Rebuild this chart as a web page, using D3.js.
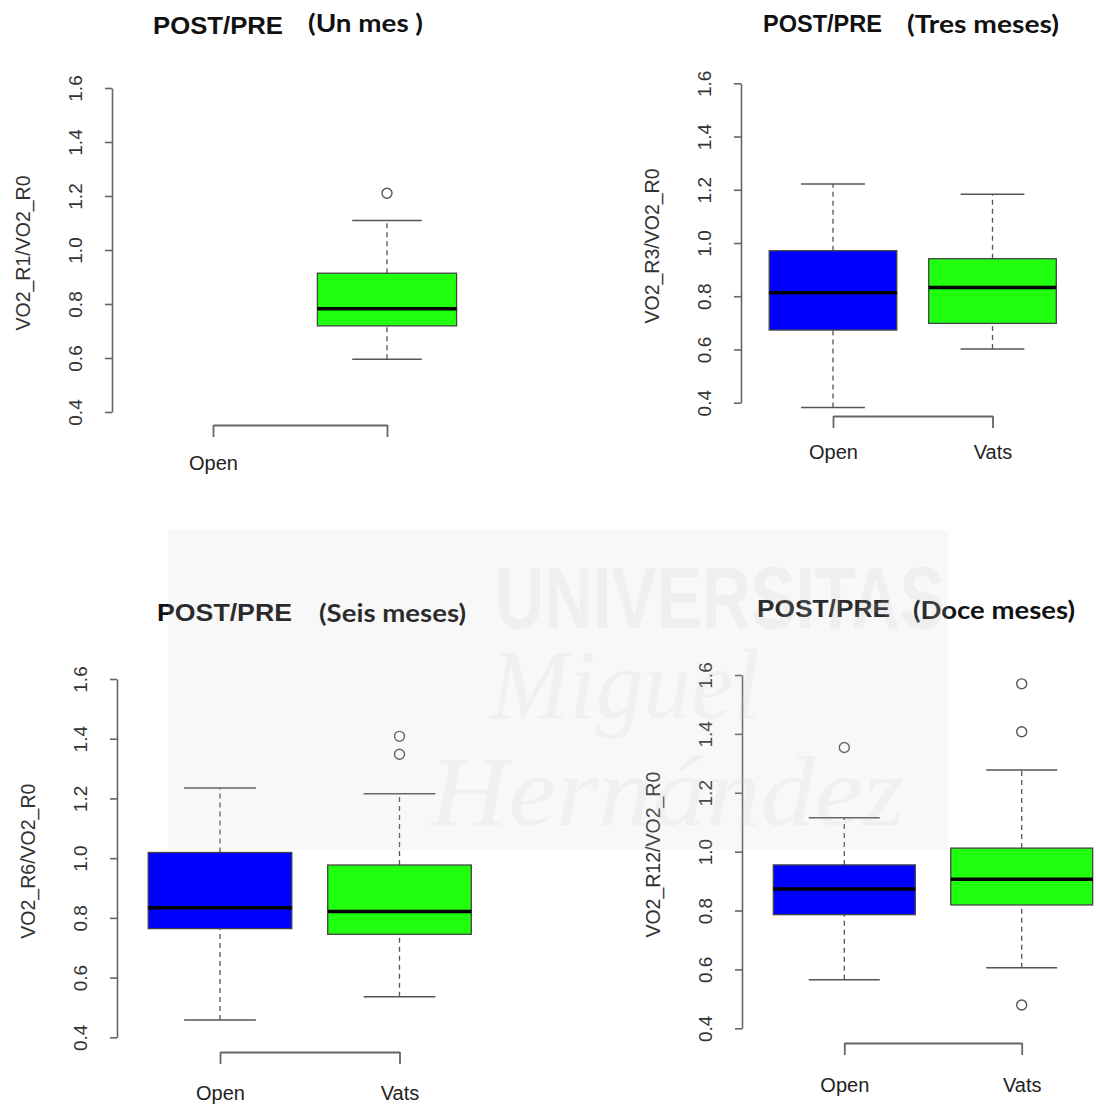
<!DOCTYPE html>
<html>
<head>
<meta charset="utf-8">
<script src="https://cdn.jsdelivr.net/npm/d3@7"></script>
<style>
  body { margin: 0; background: #fff; }
  svg { display: block; }
</style>
</head>
<body>
<div id="chart"></div>
<script>
// Data
let categories = ["Open", "Vats"];
let titleMain = "POST/PRE";
let titleSub = ["(Un mes )", "(Tres meses)", "(Seis meses)", "(Doce meses)"];
let yLabels = ["VO2_R1/VO2_R0", "VO2_R3/VO2_R0", "VO2_R6/VO2_R0", "VO2_R12/VO2_R0"];
let yTicks = [0.4, 0.6, 0.8, 1.0, 1.2, 1.4, 1.6];

// box stats: [lower whisker, Q1, median, Q3, upper whisker]
let openStats = [
    null,
    [0.382, 0.673, 0.813, 0.971, 1.222],
    [0.458, 0.764, 0.834, 1.019, 1.235],
    [0.565, 0.786, 0.873, 0.955, 1.115]
];
let vatsStats = [
    [0.595, 0.719, 0.782, 0.914, 1.109],
    [0.602, 0.698, 0.833, 0.941, 1.183],
    [0.536, 0.745, 0.821, 0.977, 1.216],
    [0.606, 0.819, 0.906, 1.012, 1.277]
];
let openOutliers = [[], [], [], [1.354]];
let vatsOutliers = [[1.21], [], [1.348, 1.408], [1.570, 1.407, 0.479]];
let boxColors = ["#0000ff", "#20ff0e"];

// Where each pasted plot sits on the page
let layout = [
    {axisX: 112, yTop: 88, yBot: 412, x0: 213, x1: 387, axisY: 425, pad: 19, showVats: false,
     t1: [153, 34, 130], t2: [308, 32, 115]},
    {axisX: 741, yTop: 83.3, yBot: 402.7, x0: 833, x1: 992.5, axisY: 416, pad: 17, showVats: true,
     t1: [763, 31.7, 119], t2: [907, 33, 152]},
    {axisX: 117, yTop: 679, yBot: 1037.3, x0: 220, x1: 399.5, axisY: 1052, pad: 22, showVats: true,
     t1: [157, 620.7, 135], t2: [319, 621.5, 147]},
    {axisX: 742, yTop: 675, yBot: 1028.3, x0: 844.3, x1: 1021.7, axisY: 1043, pad: 23, showVats: true,
     t1: [757, 616.7, 133], t2: [913, 619.3, 162]}
];

let svg = d3.select("#chart").append("svg")
    .attr("width", 1096)
    .attr("height", 1108);

layout.forEach(function(L, p) {
    let g = svg.append("g");

    let y = d3.scaleLinear().domain([0.4, 1.6]).range([L.yBot, L.yTop]);
    let x = d3.scalePoint().domain(categories).range([L.x0, L.x1]);
    let bw = 0.8 * x.step();

    // titles
    g.append("text")
        .attr("x", L.t1[0]).attr("y", L.t1[1])
        .attr("textLength", L.t1[2]).attr("lengthAdjust", "spacingAndGlyphs")
        .style("font-family", "'Liberation Sans', Arial, sans-serif")
        .style("font-weight", "bold").style("font-size", "24px").style("fill", "#111")
        .text(titleMain);
    g.append("text")
        .attr("x", L.t2[0]).attr("y", L.t2[1])
        .attr("textLength", L.t2[2]).attr("lengthAdjust", "spacingAndGlyphs")
        .style("font-family", "Lato, 'Open Sans', sans-serif")
        .style("font-weight", "bold").style("font-size", "25px").style("fill", "#111")
        .text(titleSub[p]);

    // y axis
    let yAxis = g.append("g")
        .attr("transform", "translate(" + L.axisX + ",0)")
        .call(d3.axisLeft(y).tickValues(yTicks).tickSize(7).tickSizeOuter(0)
            .tickFormat(d3.format(".1f")));
    yAxis.select(".domain").attr("stroke", "#666").attr("stroke-width", 1.6);
    yAxis.selectAll(".tick line").attr("stroke", "#666").attr("stroke-width", 1.6);
    yAxis.selectAll(".tick text")
        .attr("x", 0).attr("dy", 0)
        .attr("transform", "translate(-30,0) rotate(-90)")
        .attr("text-anchor", "middle")
        .style("font-family", "'Liberation Sans', Arial, sans-serif")
        .style("font-size", "19px").style("fill", "#333");

    g.append("text")
        .attr("transform", "translate(" + (L.axisX - 82) + "," + ((L.yTop + L.yBot) / 2 + 3) + ") rotate(-90)")
        .attr("text-anchor", "middle")
        .style("font-family", "'Liberation Sans', Arial, sans-serif")
        .style("font-size", "19.5px").style("fill", "#333")
        .text(yLabels[p]);

    // x axis (bracket)
    let xAxis = g.append("g")
        .attr("transform", "translate(0," + L.axisY + ")")
        .call(d3.axisBottom(x).tickSize(12).tickSizeOuter(0).tickPadding(L.pad)
            .tickFormat(function(d) { return (d === "Vats" && !L.showVats) ? "" : d; }));
    xAxis.select(".domain").attr("stroke", "#666").attr("stroke-width", 1.8);
    xAxis.selectAll(".tick line").attr("stroke", "#666").attr("stroke-width", 1.8);
    xAxis.selectAll(".tick text")
        .style("font-family", "'Liberation Sans', Arial, sans-serif")
        .style("font-size", "20px").style("fill", "#222");

    // boxes
    let rows = categories.map(function(c, i) {
        return {cat: c, idx: i,
            s: i === 0 ? openStats[p] : vatsStats[p],
            out: i === 0 ? openOutliers[p] : vatsOutliers[p]};
    }).filter(function(d) { return d.s; });

    let box = g.selectAll(".box").data(rows).enter().append("g").attr("class", "box");

    // dashed whiskers
    box.append("line")
        .attr("x1", d => x(d.cat)).attr("x2", d => x(d.cat))
        .attr("y1", d => y(d.s[0])).attr("y2", d => y(d.s[1]))
        .attr("stroke", "#555").attr("stroke-width", 1.3).attr("stroke-dasharray", "5,4");
    box.append("line")
        .attr("x1", d => x(d.cat)).attr("x2", d => x(d.cat))
        .attr("y1", d => y(d.s[3])).attr("y2", d => y(d.s[4]))
        .attr("stroke", "#555").attr("stroke-width", 1.3).attr("stroke-dasharray", "5,4");
    // caps
    [0, 4].forEach(function(k) {
        box.append("line")
            .attr("x1", d => x(d.cat) - bw / 4).attr("x2", d => x(d.cat) + bw / 4)
            .attr("y1", d => y(d.s[k])).attr("y2", d => y(d.s[k]))
            .attr("stroke", "#555").attr("stroke-width", 1.5);
    });
    // box
    box.append("rect")
        .attr("x", d => x(d.cat) - bw / 2)
        .attr("width", bw)
        .attr("y", d => y(d.s[3]))
        .attr("height", d => y(d.s[1]) - y(d.s[3]))
        .attr("fill", d => boxColors[d.idx])
        .attr("stroke", "#444").attr("stroke-width", 1.3);
    // median
    box.append("line")
        .attr("x1", d => x(d.cat) - bw / 2).attr("x2", d => x(d.cat) + bw / 2)
        .attr("y1", d => y(d.s[2])).attr("y2", d => y(d.s[2]))
        .attr("stroke", "#000").attr("stroke-width", 3.5);
    // outliers
    box.selectAll(".out")
        .data(d => d.out.map(v => ({cat: d.cat, v: v})))
        .enter().append("circle")
        .attr("class", "out")
        .attr("cx", d => x(d.cat)).attr("cy", d => y(d.v))
        .attr("r", 5)
        .attr("fill", "none").attr("stroke", "#555").attr("stroke-width", 1.4);
});

// faint watermark laid over the middle of the page
let wm = svg.append("g").style("pointer-events", "none");
wm.append("rect")
    .attr("x", 168).attr("y", 530).attr("width", 780).attr("height", 320)
    .attr("fill", "#d0d0d0").attr("opacity", 0.14);
wm.append("text")
    .attr("x", 495).attr("y", 628).attr("textLength", 450).attr("lengthAdjust", "spacingAndGlyphs")
    .style("font-family", "'Liberation Sans Narrow', 'Liberation Sans', sans-serif")
    .style("font-weight", "bold").style("font-size", "88px")
    .attr("fill", "#bbb").attr("opacity", 0.13)
    .text("UNIVERSITAS");
wm.append("text")
    .attr("x", 490).attr("y", 718).attr("textLength", 270).attr("lengthAdjust", "spacingAndGlyphs")
    .style("font-family", "'Liberation Serif', 'DejaVu Serif', serif")
    .style("font-style", "italic").style("font-size", "100px")
    .attr("fill", "#bbb").attr("opacity", 0.12)
    .text("Miguel");
wm.append("text")
    .attr("x", 430).attr("y", 825).attr("textLength", 475).attr("lengthAdjust", "spacingAndGlyphs")
    .style("font-family", "'Liberation Serif', 'DejaVu Serif', serif")
    .style("font-style", "italic").style("font-size", "100px")
    .attr("fill", "#bbb").attr("opacity", 0.12)
    .text("Hernández");
</script>
</body>
</html>
